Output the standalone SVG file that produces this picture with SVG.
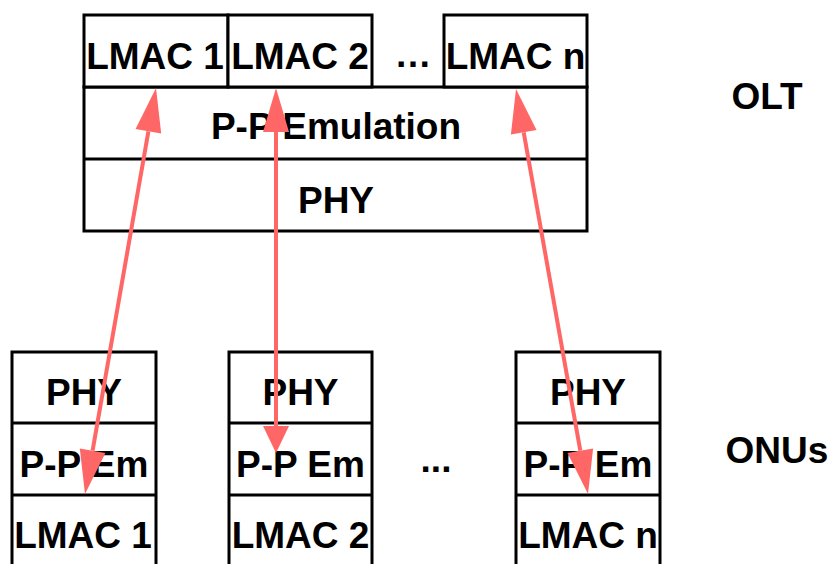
<svg xmlns="http://www.w3.org/2000/svg" width="829" height="564" viewBox="0 0 829 564">
<style>
.b{fill:#fff;stroke:#000;stroke-width:3}
.l{fill:none;stroke:#000;stroke-width:3}
.t{font-family:"Liberation Sans",Arial,sans-serif;font-weight:bold;font-size:37px;fill:#000;text-anchor:middle}
.c{stroke:#ff6666;stroke-width:4;fill:none}
.h{fill:#ff6666;stroke:none}
</style>
<rect width="829" height="564" fill="#fff"/>
<g id="olt">
<rect class="b" x="84" y="87" width="503" height="144"/>
<line class="l" x1="84" y1="159" x2="587" y2="159"/>
<text class="t" x="336" y="139">P-P Emulation</text>
<text class="t" x="336" y="213">PHY</text>
</g>
<g id="olt-lmac1"><rect class="b" x="84" y="15" width="144" height="72"/><text class="t" x="155" y="69">LMAC 1</text></g>
<g id="olt-lmac2"><rect class="b" x="228" y="15" width="144" height="72"/><text class="t" x="300" y="69">LMAC 2</text></g>
<g id="olt-dots"><text class="t" x="413" y="67">…</text></g>
<g id="olt-lmacn"><rect class="b" x="444" y="15" width="143" height="72"/><text class="t" x="515.5" y="69">LMAC n</text></g>
<g id="olt-label"><text class="t" x="767" y="109">OLT</text></g>
<g id="onu1">
<rect class="b" x="12" y="352" width="144" height="216"/>
<line class="l" x1="12" y1="423" x2="156" y2="423"/>
<line class="l" x1="12" y1="495" x2="156" y2="495"/>
<text class="t" x="84" y="405">PHY</text>
<text class="t" x="84" y="477">P-P Em</text>
<text class="t" x="83" y="548">LMAC 1</text>
</g>
<g id="onu2">
<rect class="b" x="229" y="352" width="143" height="216"/>
<line class="l" x1="229" y1="423" x2="372" y2="423"/>
<line class="l" x1="229" y1="495" x2="372" y2="495"/>
<text class="t" x="300.5" y="405">PHY</text>
<text class="t" x="300.5" y="477">P-P Em</text>
<text class="t" x="300.5" y="548">LMAC 2</text>
</g>
<g id="onu-dots"><text class="t" x="436" y="472">...</text></g>
<g id="onun">
<rect class="b" x="516" y="352" width="144" height="216"/>
<line class="l" x1="516" y1="423" x2="660" y2="423"/>
<line class="l" x1="516" y1="495" x2="660" y2="495"/>
<text class="t" x="588" y="405">PHY</text>
<text class="t" x="588" y="477">P-P Em</text>
<text class="t" x="588" y="548">LMAC n</text>
</g>
<g id="onu-label"><text class="t" x="777" y="463">ONUs</text></g>
<g id="connectors">
<line class="c" x1="148.4" y1="131.3" x2="92.6" y2="450.7"/>
<polygon class="h" points="156,88 161.2,133.5 135.6,129.1"/>
<polygon class="h" points="85,494 105.4,452.9 79.8,448.5"/>
<line class="c" x1="276" y1="132" x2="276" y2="426"/>
<polygon class="h" points="276,88 289,132 263,132"/>
<polygon class="h" points="276,453 289,426 263,426"/>
<line class="c" x1="523.7" y1="132.3" x2="580.3" y2="450.7"/>
<polygon class="h" points="516,89 536.5,130 510.9,134.6"/>
<polygon class="h" points="588,494 593.1,448.4 567.5,453"/>
</g>
</svg>
